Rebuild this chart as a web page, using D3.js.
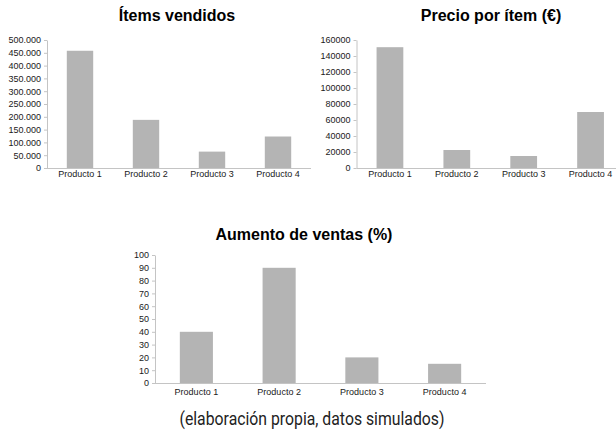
<!DOCTYPE html>
<html>
<head>
<meta charset="utf-8">
<script src="https://cdn.jsdelivr.net/npm/d3@7"></script>
<style>
  html, body { margin: 0; padding: 0; background: #fff; }
  svg { display: block; }
  .tick text { font-family: "Liberation Sans", Arial, sans-serif; font-size: 9px; fill: #1a1a1a; }
  .title { font-family: "Liberation Sans", Arial, sans-serif; font-size: 16px; font-weight: bold; fill: #000; }
  .foot { font-family: Roboto, "Noto Sans", sans-serif; font-size: 18px; fill: #222; }
</style>
</head>
<body>
<svg id="chart" width="616" height="435"></svg>
<script>
const categories = ["Producto 1", "Producto 2", "Producto 3", "Producto 4"];
const itemsVendidos = [458000, 188000, 64000, 123000];
const precioPorItem = [151000, 22500, 15000, 70000];
const aumentoVentas = [40, 90, 20, 15];
const ticksItems = [0, 50000, 100000, 150000, 200000, 250000, 300000, 350000, 400000, 450000, 500000];
const ticksPrecio = [0, 20000, 40000, 60000, 80000, 100000, 120000, 140000, 160000];
const ticksAumento = [0, 10, 20, 30, 40, 50, 60, 70, 80, 90, 100];
const titles = ["Ítems vendidos", "Precio por ítem (€)", "Aumento de ventas (%)"];
const footer = "(elaboración propia, datos simulados)";

const svg = d3.select("#chart");
const esLocale = d3.formatLocale({decimal: ",", thousands: ".", grouping: [3], currency: ["", "€"]});

function drawChart(cfg) {
  const g = svg.append("g");
  const x = d3.scaleBand().domain(categories).range([cfg.x0, cfg.x1]).paddingInner(0.6).paddingOuter(0.3);
  const y = d3.scaleLinear().domain([0, cfg.max]).range([cfg.y0, cfg.y1]);

  g.selectAll("rect.bar").data(cfg.values).join("rect")
    .attr("class", "bar")
    .attr("x", (d, i) => x(categories[i]))
    .attr("width", x.bandwidth())
    .attr("y", d => y(d))
    .attr("height", d => y(0) - y(d))
    .attr("fill", "#b4b4b4");

  const ya = g.append("g").attr("transform", `translate(${cfg.x0},0)`)
    .call(d3.axisLeft(y).tickValues(cfg.ticks).tickFormat(cfg.fmt).tickSize(3).tickPadding(3).tickSizeOuter(0));
  ya.select(".domain").attr("stroke", "#c4c4c4");
  ya.selectAll(".tick line").attr("stroke", "#c4c4c4");

  const xa = g.append("g").attr("transform", `translate(0,${cfg.y0})`)
    .call(d3.axisBottom(x).tickSize(0).tickPadding(cfg.labPad).tickSizeOuter(0));
  xa.select(".domain").attr("stroke", "#c4c4c4").attr("d", `M${cfg.x0},0.5H${cfg.x1}`);

  g.append("text").attr("class", "title")
    .attr("x", cfg.tx).attr("y", cfg.ty).attr("text-anchor", "middle").text(cfg.title);
}

drawChart({values: itemsVendidos, ticks: ticksItems, max: 500000, fmt: esLocale.format(",d"),
  x0: 47, x1: 311, y0: 168, y1: 40, labPad: 3, title: titles[0], tx: 177, ty: 21});
drawChart({values: precioPorItem, ticks: ticksPrecio, max: 160000, fmt: d3.format("d"),
  x0: 356.5, x1: 624, y0: 168, y1: 40, labPad: 3, title: titles[1], tx: 491, ty: 21});
drawChart({values: aumentoVentas, ticks: ticksAumento, max: 100, fmt: d3.format("d"),
  x0: 155, x1: 486, y0: 383, y1: 255, labPad: 6, title: titles[2], tx: 304, ty: 240});

svg.append("text").attr("class", "foot").attr("x", 312).attr("y", 425)
  .attr("text-anchor", "middle")
  .attr("textLength", 265).attr("lengthAdjust", "spacingAndGlyphs")
  .text(footer);
</script>
</body>
</html>
